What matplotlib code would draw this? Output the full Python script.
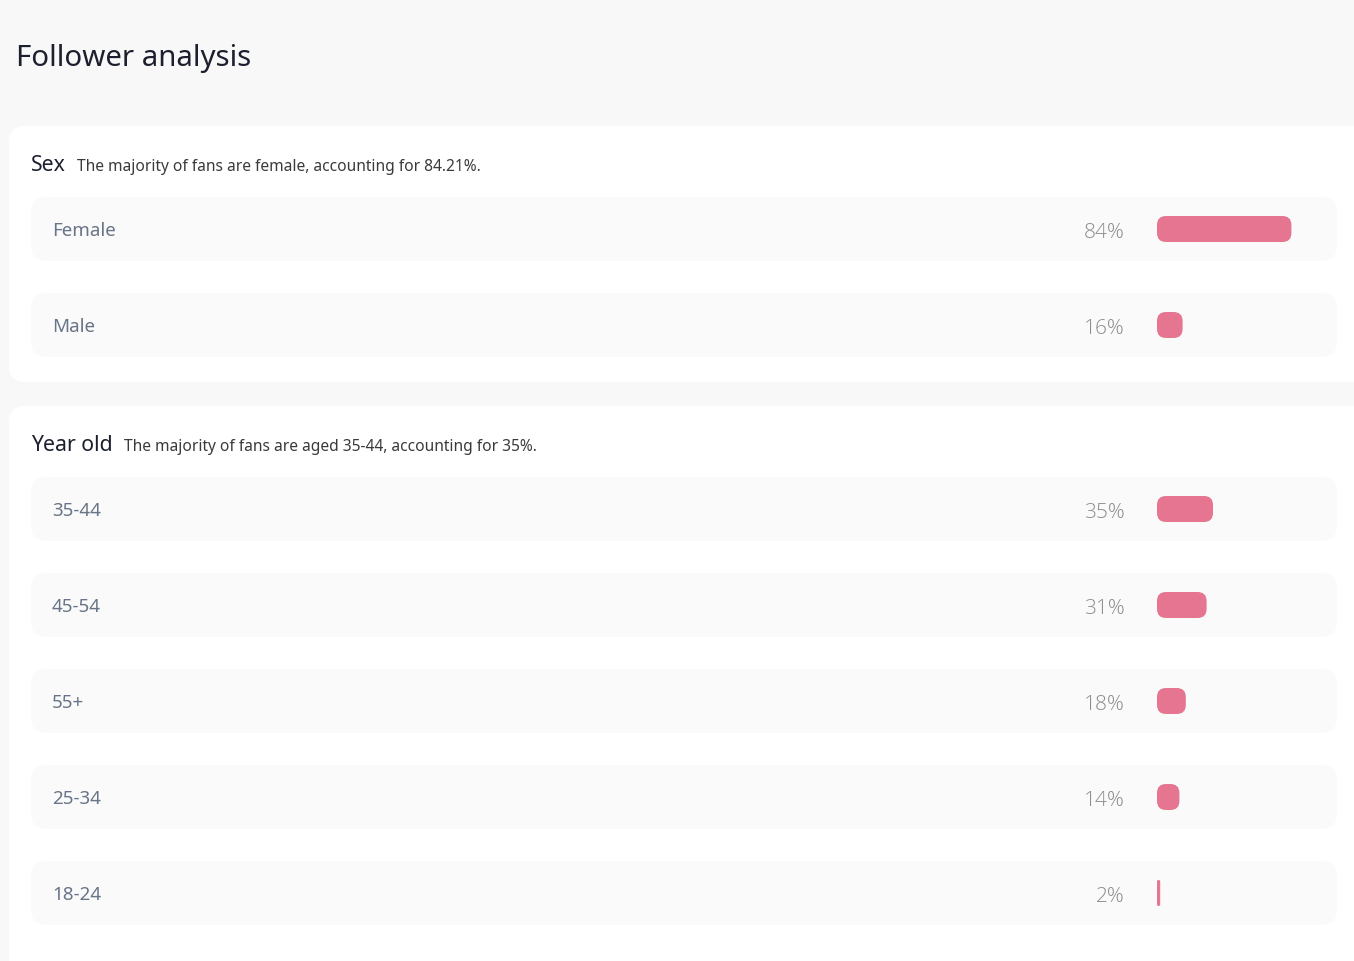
import matplotlib
matplotlib.use("Agg")
import matplotlib.pyplot as plt
from matplotlib.patches import FancyBboxPatch

plt.rcParams['font.family'] = ['Noto Sans', 'DejaVu Sans']

title = "Follower analysis"

sex_header = "Sex"
sex_note = "The majority of fans are female, accounting for 84.21%."
sex_labels = ["Female", "Male"]
sex_values = [84, 16]

age_header = "Year old"
age_note = "The majority of fans are aged 35-44, accounting for 35%."
age_labels = ["35-44", "45-54", "55+", "25-34", "18-24"]
age_values = [35, 31, 18, 14, 2]

W, H = 1354, 961
page_bg = "#f8f8f8"
row_bg = "#fafafa"
bar_color = "#e57591"
label_color = "#687487"
pct_color = "#8c8c8c"
dark = "#1c1f2e"

fig = plt.figure(figsize=(W / 100, H / 100), dpi=100)
fig.patch.set_facecolor(page_bg)
ax = fig.add_axes([0, 0, 1, 1])
ax.set_xlim(0, W)
ax.set_ylim(H, 0)
ax.axis('off')


def rbox(x, y, w, h, r, color):
    r = min(r, w / 2, h / 2)
    p = FancyBboxPatch((x, y), w, h, boxstyle=f"round,pad=0,rounding_size={r}",
                       facecolor=color, edgecolor='none')
    ax.add_patch(p)


ax.text(16, 66, title, fontsize=21.2, color=dark, va='baseline')

renderer = fig.canvas.get_renderer()


def section(top, bottom, header, note, labels, values):
    rbox(9, top, W + 20, bottom - top, 16, "white")
    base = top + 45
    t = ax.text(31, base, header, fontsize=15.3, color=dark, va='baseline')
    bb = t.get_window_extent(renderer).transformed(ax.transData.inverted())
    ax.text(bb.x1 + 11, base, note, fontsize=11.2, color="#3a3a3a", va='baseline')
    for i, (lab, v) in enumerate(zip(labels, values)):
        cy = top + 103 + i * 96
        rbox(31, cy - 32, 1306, 64, 16, row_bg)
        ax.text(52, cy, lab, fontsize=13.5, color=label_color, va='center_baseline')
        ax.text(1125, cy + 1, f"{v}%", fontsize=15, color=pct_color, fontweight='light',
                ha='right', va='center_baseline', family=['Open Sans', 'Noto Sans'])
        bw = v * 1.6
        rbox(1157, cy - 13, bw, 26, 9, bar_color)


section(126, 382, sex_header, sex_note, sex_labels, sex_values)
section(406, 990, age_header, age_note, age_labels, age_values)

fig.savefig("out.png", dpi=100, facecolor=page_bg)
